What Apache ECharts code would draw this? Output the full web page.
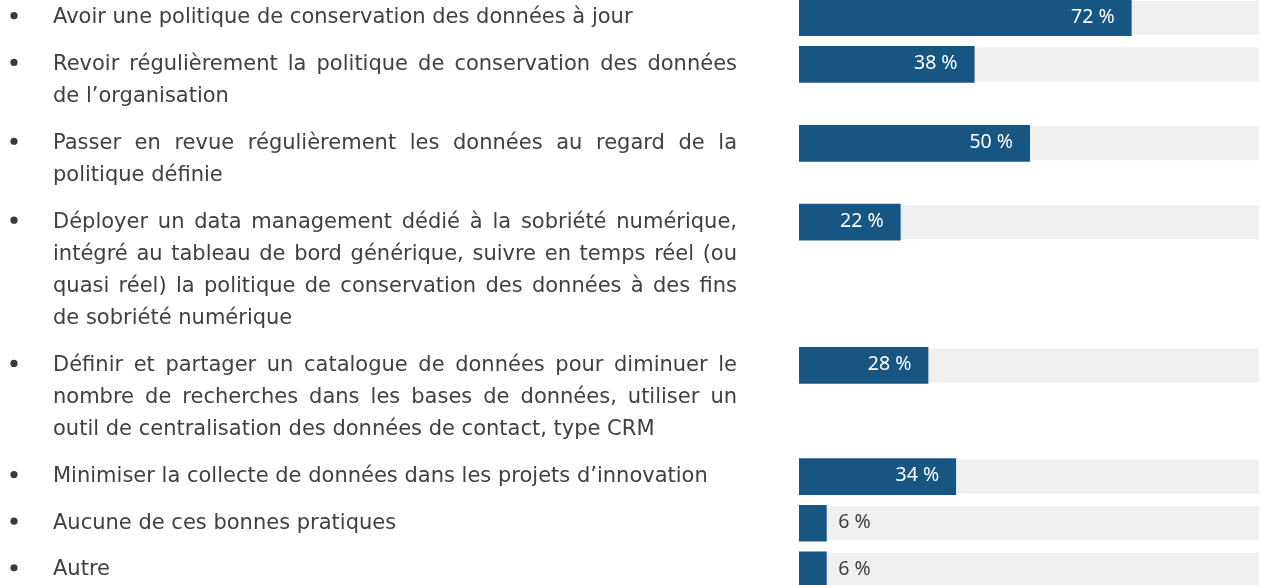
<!DOCTYPE html>
<html>
<head>
<meta charset="utf-8">
<script src="https://cdn.jsdelivr.net/npm/echarts@6/dist/echarts.min.js"></script>
<style>
  html, body { margin: 0; padding: 0; background: #ffffff; }
  #chart { width: 1261px; height: 585px; }
</style>
</head>
<body>
<div id="chart"></div>
<script>
// Answers, one entry per practice, broken into the printed lines
const categories = [
  ['Avoir une politique de conservation des données à jour'],
  ['Revoir régulièrement la politique de conservation des données',
   'de l’organisation'],
  ['Passer en revue régulièrement les données au regard de la',
   'politique définie'],
  ['Déployer un data management dédié à la sobriété numérique,',
   'intégré au tableau de bord générique, suivre en temps réel (ou',
   'quasi réel) la politique de conservation des données à des fins',
   'de sobriété numérique'],
  ['Définir et partager un catalogue de données pour diminuer le',
   'nombre de recherches dans les bases de données, utiliser un',
   'outil de centralisation des données de contact, type CRM'],
  ['Minimiser la collecte de données dans les projets d’innovation'],
  ['Aucune de ces bonnes pratiques'],
  ['Autre']
];
// Share of respondents (%)
const values = [72, 38, 50, 22, 28, 34, 6, 6];

// Text layout settings
const TEXT_FONT_SIZE = 21;
const TEXT_FAMILY = 'DejaVu Sans';
const TEXT_COLOR = '#404040';
const TEXT_LEFT = 53;
const TEXT_RIGHT = 737;
const BULLET_X = 14;
const GAP_LINES = 1.45;      // space between two items, in text lines
const BAR_COLOR = '#175683';
const TRACK_COLOR = '#f0f0f0';
const TRACK_RIGHT_MARGIN = 2;
const LABEL_FAMILY = 'Noto Sans';
const LABEL_SIZE = 19.5;

// Vertical position of each item (in line units), stacked from its line count
const rowPos = [];
categories.forEach((lines, i) => {
  if (i === 0) rowPos.push(0);
  else rowPos.push(rowPos[i - 1] + (categories[i - 1].length - 1) + GAP_LINES);
});

const seriesData = values.map((v, i) => [v, rowPos[i], i]);

// Word widths for justified lines
const measureCtx = document.createElement('canvas').getContext('2d');
measureCtx.font = TEXT_FONT_SIZE + 'px "' + TEXT_FAMILY + '"';
function textWidth(s) { return measureCtx.measureText(s).width; }

function textLine(str, x, y) {
  return {
    type: 'text',
    style: {
      x: x, y: y, text: str,
      fill: TEXT_COLOR,
      font: TEXT_FONT_SIZE + 'px "' + TEXT_FAMILY + '"',
      align: 'left', verticalAlign: 'middle'
    },
    silent: true
  };
}

function renderItem(params, api) {
  const v = api.value(0);
  const yv = api.value(1);
  const idx = api.value(2);
  const start = api.coord([0, yv]);
  const end = api.coord([v, yv]);
  const yc = start[1];
  const lineStep = api.size([0, 1])[1];
  const trackEnd = api.getWidth() - TRACK_RIGHT_MARGIN;
  const children = [];

  // background track
  children.push({
    type: 'rect',
    shape: { x: start[0], y: yc - 17, width: trackEnd - start[0], height: 34 },
    style: { fill: TRACK_COLOR }, silent: true
  });
  // value bar
  const barW = end[0] - start[0];
  children.push({
    type: 'rect',
    shape: { x: start[0], y: yc - 18.3, width: barW, height: 36.7 },
    style: { fill: BAR_COLOR }
  });
  // value label: inside the bar end when it fits, otherwise just after it
  const labelText = v + ' %';
  const inside = barW > 70;
  children.push({
    type: 'text',
    style: {
      x: inside ? end[0] - 17 : end[0] + 11.5,
      y: yc - 0.6,
      text: labelText,
      fill: inside ? '#ffffff' : TEXT_COLOR,
      font: LABEL_SIZE + 'px "' + LABEL_FAMILY + '"',
      align: inside ? 'right' : 'left',
      verticalAlign: 'middle'
    },
    silent: true
  });

  // bullet
  children.push({
    type: 'circle',
    shape: { cx: BULLET_X, cy: yc - 2, r: 3.6 },
    style: { fill: '#3a3a3a' }, silent: true
  });

  // item text, justified except the last line of the paragraph
  const lines = categories[idx];
  const boxW = TEXT_RIGHT - TEXT_LEFT;
  lines.forEach((line, li) => {
    const ly = yc + li * lineStep;
    const isLast = li === lines.length - 1;
    if (isLast) {
      children.push(textLine(line, TEXT_LEFT, ly));
      return;
    }
    const words = line.split(' ');
    const widths = words.map(textWidth);
    const total = widths.reduce((a, b) => a + b, 0);
    const space = (boxW - total) / (words.length - 1);
    let x = TEXT_LEFT;
    words.forEach((w, wi) => {
      children.push(textLine(w, x, ly));
      x += widths[wi] + space;
    });
  });

  return { type: 'group', children: children };
}

const chart = echarts.init(document.getElementById('chart'), null, { renderer: 'canvas' });
chart.setOption({
  animation: false,
  backgroundColor: '#ffffff',
  // the 0–100 scale runs slightly past the right edge; the track stops 2px short of it
  grid: { left: 799, right: -6, top: 0, bottom: 0 },
  xAxis: { type: 'value', min: 0, max: 100, show: false },
  yAxis: { type: 'value', inverse: true, min: -0.55, max: 17.62, show: false },
  series: [{
    type: 'custom',
    renderItem: renderItem,
    clip: false,
    encode: { x: 0, y: 1 },
    data: seriesData
  }]
});
</script>
</body>
</html>
